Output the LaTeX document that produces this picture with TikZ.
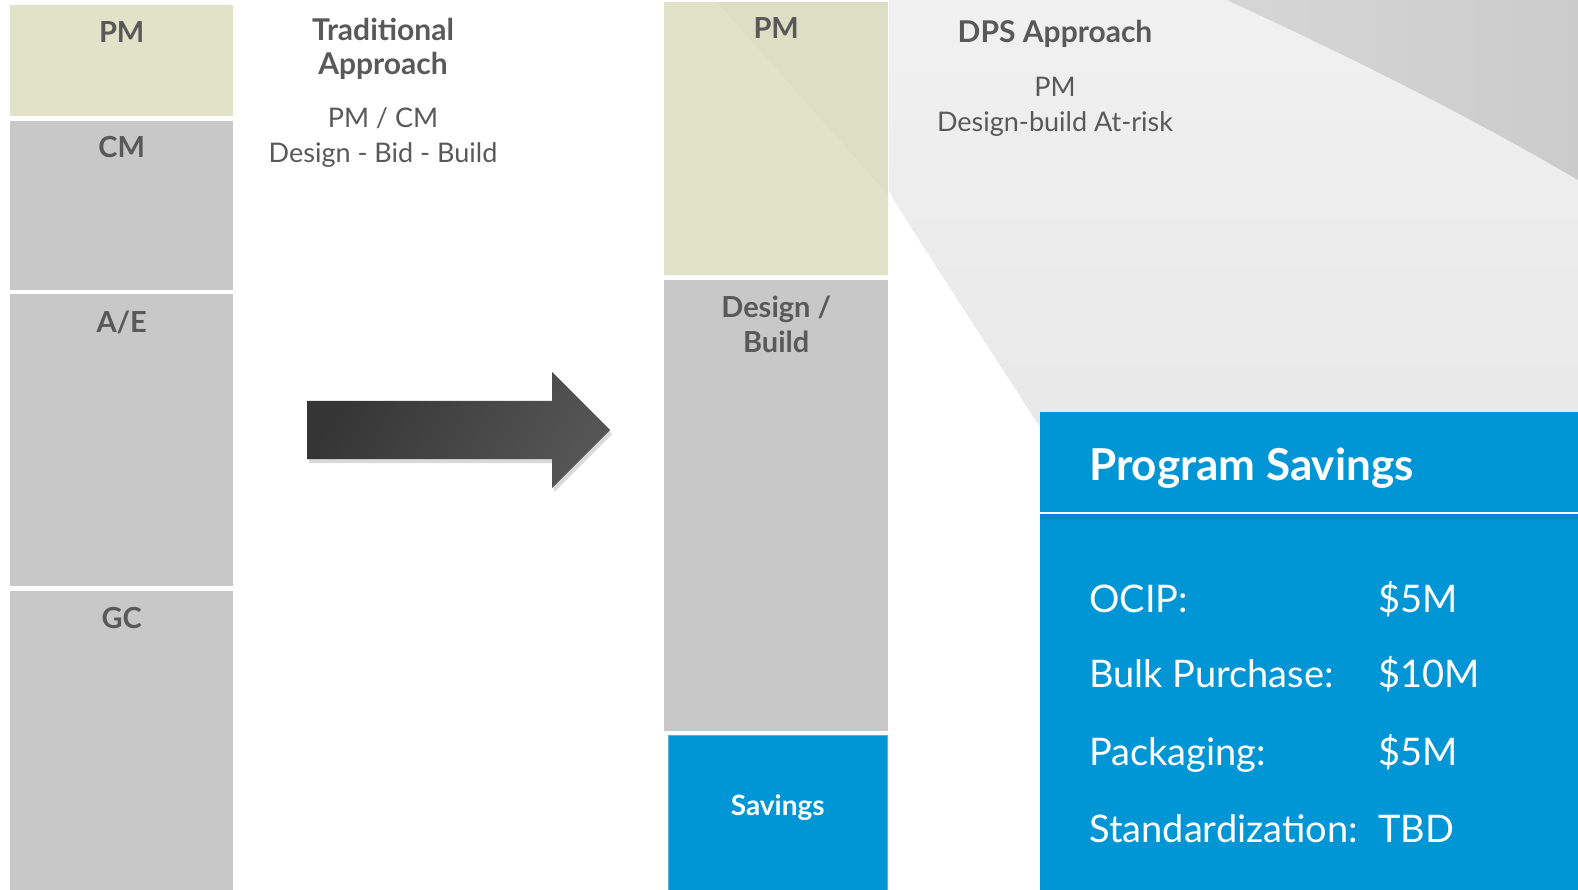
\documentclass[tikz,border=0pt]{standalone}
\usepackage{fontspec}
\setmainfont{Lato}
\usetikzlibrary{positioning,shapes.arrows,shadows}
\definecolor{PmGreen}{HTML}{E0E3C8}
\definecolor{BoxGray}{HTML}{C8C8C8}
\definecolor{InkGray}{HTML}{595959}
\definecolor{SaveBlue}{HTML}{0096D6}
\definecolor{SwooshTop}{HTML}{F1F1F1}
\definecolor{SwooshLight}{HTML}{E8E8E8}
\definecolor{SwooshDark}{HTML}{D6D6D6}
\definecolor{ArrowDark}{HTML}{353535}
\definecolor{ArrowLight}{HTML}{555555}

\tikzset{
  colbox/.style={anchor=north west, inner sep=0pt, minimum width=223pt, fill=BoxGray},
  boxlabel/.style={anchor=base, inner sep=0pt, text=InkGray, align=center,
    font=\bfseries\fontsize{29}{35}\selectfont},
  headtitle/.style={anchor=base, inner sep=0pt, text=InkGray, align=center,
    font=\bfseries\fontsize{30}{34}\selectfont},
  headsub/.style={anchor=base, inner sep=0pt, text=InkGray, align=center,
    font=\fontsize{27}{35}\selectfont},
  rowtext/.style={anchor=base west, inner sep=0pt, text=white,
    font=\fontsize{38}{42}\selectfont}
}

\begin{document}
\begin{tikzpicture}[x=1pt, y=-1pt]
  \useasboundingbox (0,0) rectangle (1578,890);

  % background swoosh
  \shade[top color=SwooshTop, bottom color=SwooshLight]
    (889,0) -- (889,190) .. controls (893,200) .. (1045,435) -- (1578,435) -- (1578,0) -- cycle;
  \shade[left color=SwooshDark, right color=SwooshDark!95!black]
    (1227,0) .. controls (1330,48) and (1450,105) .. (1578,180) -- (1578,0) -- cycle;

  % traditional approach column
  \node[colbox, fill=PmGreen, minimum height=111pt] (tradpm) at (10,5) {};
  \node[colbox, minimum height=169pt] (tradcm) at (10,121) {};
  \node[colbox, minimum height=292pt] (tradae) at (10,294) {};
  \node[colbox, minimum height=299pt] (tradgc) at (10,591) {};
  \node[boxlabel] (tradpmlbl) at ([yshift=-38pt]tradpm.north) {PM};
  \node[boxlabel] (tradcmlbl) at ([yshift=-37pt]tradcm.north) {CM};
  \node[boxlabel] (tradaelbl) at ([yshift=-38pt]tradae.north) {A/E};
  \node[boxlabel] (tradgclbl) at ([yshift=-37pt]tradgc.north) {GC};

  \node[headtitle] (tradtitle) at (383,75) {Traditional\\Approach};
  \node[headsub] (tradsub) at (383,163) {PM / CM\\Design - Bid - Build};

  % arrow
  \node[single arrow, anchor=tail, minimum height=303pt, inner sep=0pt,
    single arrow head extend=29pt, single arrow tip angle=90,
    shading=axis, left color=ArrowDark, right color=ArrowLight, shading angle=60,
    drop shadow={opacity=0.3, shadow xshift=2pt, shadow yshift=-4pt}] (shiftarrow) at (307,430) {\rule{0pt}{58pt}};

  % DPS approach column
  \node[colbox, fill=PmGreen, minimum width=224pt, minimum height=273pt] (dpspm) at (664,2) {};
  \fill[black, opacity=0.014] (717,2) -- (dpspm.north east) -- (888,195) -- cycle;
  \node[colbox, minimum width=224pt, minimum height=451pt] (dpsdb) at (664,280) {};
  \node[colbox, fill=SaveBlue, draw=SaveBlue!70!white, minimum width=219pt, minimum height=155pt] (dpssave) at (668,735) {};
  \node[boxlabel] (dpspmlbl) at ([yshift=-37pt]dpspm.north) {PM};
  \node[boxlabel] (dpsdblbl) at ([yshift=-72pt]dpsdb.north) {Design /\\Build};
  \node[boxlabel, text=white, font=\bfseries\fontsize{28}{32}\selectfont] (dpssavelbl) at ([yshift=-3pt]dpssave.center) {Savings};

  \node[headtitle] (dpstitle) at (1055,43) {DPS Approach};
  \node[headsub] (dpssub) at (1055,132) {PM\\Design-build At-risk};

  % program savings panel
  \node[anchor=north west, inner sep=0pt, fill=SaveBlue, minimum width=538pt, minimum height=478pt] (savingspanel) at (1040,412) {};
  \fill[black, opacity=0.08] (savingspanel.west |- 0,514) rectangle (savingspanel.east |- 0,519);
  \draw[white, line width=1.2pt] (savingspanel.west |- 0,513) -- (savingspanel.east |- 0,513);
  \node[rowtext, font=\bfseries\fontsize{44}{48}\selectfont] (savingstitle) at (1089,480) {Program Savings};
  \foreach \key/\val/\ypos [count=\i] in {OCIP:/\$5M/612, Bulk Purchase:/\$10M/687, Packaging:/\$5M/765, Standardization:/TBD/842} {
    \node[rowtext] (rowkey\i) at (1089,\ypos) {\key};
    \node[rowtext] (rowval\i) at (1378,\ypos) {\val};
  }
\end{tikzpicture}
\end{document}
